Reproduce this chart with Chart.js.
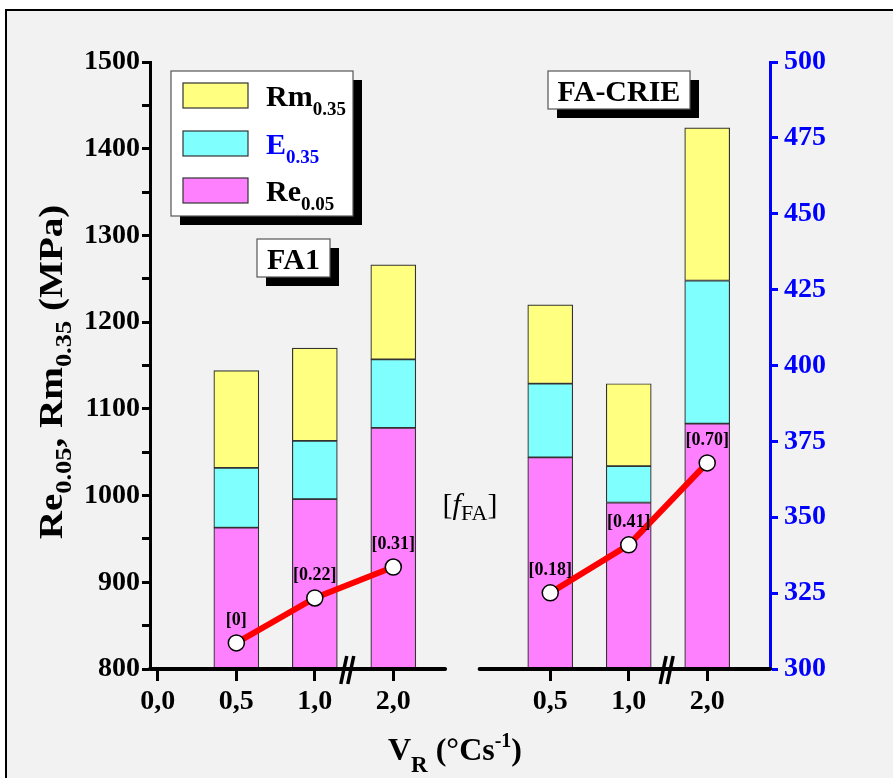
<!DOCTYPE html>
<html>
<head>
<meta charset="utf-8">
<script src="https://cdn.jsdelivr.net/npm/chart.js@4/dist/chart.umd.min.js"></script>
<style>
  body { margin: 0; background: #fff; }
</style>
</head>
<body>
<canvas id="myChart" width="893" height="778"></canvas>
<script>
// x categories, blank slot = axis break between the two alloys
const xLabels = ['0,0', '0,5', '1,0', '2,0', '', '0,5', '1,0', '2,0']
const rates = ['0,5', '1,0', '2,0']

// FA1 (left group), MPa, top of each stacked segment
const fa1Re = [963, 996, 1078]
const fa1E = [1032, 1063, 1157]
const fa1Rm = [1144, 1170, 1266]
// FA-CRIE (right group)
const crieRe = [1044, 992, 1083]
const crieE = [1129, 1034, 1248]
const crieRm = [1220, 1129, 1424]

// red line, right axis
const fa1Line = [308.6, 323.4, 333.6]
const crieLine = [325.1, 340.9, 367.9]
const fa1Frac = ['[0]', '[0.22]', '[0.31]']
const crieFrac = ['[0.18]', '[0.41]', '[0.70]']

const fa1Pos = rates.map(r => xLabels.indexOf(r))
const criePos = rates.map(r => xLabels.lastIndexOf(r))

const YELLOW = '#ffff80'
const CYAN = '#80ffff'
const MAGENTA = '#ff80ff'
const SERIF = '"Liberation Serif", "Times New Roman", serif'

const pts = (pos, vals) => pos.map((x, i) => ({x: x, y: vals[i]}))
const span = (pos, lo, hi) => pos.map((x, i) => ({x: x, y: [lo[i], hi[i]]}))

const barStyle = {
  type: 'bar',
  yAxisID: 'y',
  barThickness: 45,
  grouped: false,
  borderColor: '#333',
  borderWidth: 1.2,
  borderSkipped: false,
  order: 2
}
const lineStyle = {
  type: 'line',
  yAxisID: 'y2',
  borderColor: '#ff0000',
  borderWidth: 6,
  tension: 0,
  pointRadius: 8,
  pointBackgroundColor: '#fff',
  pointBorderColor: '#000',
  pointBorderWidth: 1.5,
  order: 1
}

const data = {
  datasets: [
    {...barStyle, label: 'Re FA1', data: pts(fa1Pos, fa1Re), backgroundColor: MAGENTA},
    {...barStyle, label: 'E FA1', data: span(fa1Pos, fa1Re, fa1E), backgroundColor: CYAN},
    {...barStyle, label: 'Rm FA1', data: span(fa1Pos, fa1E, fa1Rm), backgroundColor: YELLOW},
    {...barStyle, label: 'Re CRIE', data: pts(criePos, crieRe), backgroundColor: MAGENTA},
    {...barStyle, label: 'E CRIE', data: span(criePos, crieRe, crieE), backgroundColor: CYAN},
    {...barStyle, label: 'Rm CRIE', data: span(criePos, crieE, crieRm), backgroundColor: YELLOW},
    {...lineStyle, label: 'fFA FA1', data: pts(fa1Pos, fa1Line), fracs: fa1Frac},
    {...lineStyle, label: 'fFA CRIE', data: pts(criePos, crieLine), fracs: crieFrac}
  ]
}

// text with sub/superscripts: parts = [{t, size, dy, bold, italic, color}]
const rich = (ctx, parts, x, y, align) => {
  const fontOf = p => (p.italic ? 'italic ' : '') + (p.bold === false ? '' : 'bold ') + p.size + 'px ' + SERIF
  let w = 0
  parts.forEach(p => { ctx.font = fontOf(p); w += ctx.measureText(p.t).width })
  let cx = align === 'center' ? x - w / 2 : x
  ctx.textAlign = 'left'
  ctx.textBaseline = 'alphabetic'
  parts.forEach(p => {
    ctx.font = fontOf(p)
    ctx.fillStyle = p.color || '#000'
    ctx.fillText(p.t, cx, y + (p.dy || 0))
    cx += ctx.measureText(p.t).width
  })
}

const shadowBox = (ctx, x, y, w, h) => {
  ctx.fillStyle = '#000'
  ctx.fillRect(x + 9, y + 9, w, h)
  ctx.fillStyle = '#fff'
  ctx.fillRect(x, y, w, h)
  ctx.strokeStyle = '#555'
  ctx.lineWidth = 1.2
  ctx.strokeRect(x, y, w, h)
}

const decor = {
  id: 'decor',
  beforeDraw(chart) {
    const ctx = chart.ctx
    ctx.save()
    ctx.fillStyle = '#fff'
    ctx.fillRect(0, 0, chart.width, chart.height)
    ctx.fillStyle = '#f2f2f2'
    ctx.fillRect(6, 10, chart.width, chart.height)
    ctx.strokeStyle = '#000'
    ctx.lineWidth = 2
    ctx.beginPath()
    ctx.moveTo(6, chart.height)
    ctx.lineTo(6, 10)
    ctx.lineTo(chart.width, 10)
    ctx.stroke()
    ctx.restore()
  },
  afterDraw(chart) {
    const ctx = chart.ctx
    const xs = chart.scales.x
    const area = chart.chartArea
    const by = area.bottom
    ctx.save()

    // x axis in two pieces
    ctx.strokeStyle = '#000'
    ctx.lineWidth = 4
    ctx.lineCap = 'round'
    ctx.beginPath()
    ctx.moveTo(area.left, by)
    ctx.lineTo(xs.getPixelForValue(3.66), by)
    ctx.moveTo(xs.getPixelForValue(4.1), by)
    ctx.lineTo(area.right, by)
    ctx.stroke()

    // break marks
    ctx.lineWidth = 3.5
    ctx.lineCap = 'butt'
    ;[2.42, 6.49].forEach(v => {
      const bx = xs.getPixelForValue(v)
      ;[-4, 3].forEach(o => {
        ctx.beginPath()
        ctx.moveTo(bx + o - 3, by + 15)
        ctx.lineTo(bx + o + 3, by - 13)
        ctx.stroke()
      })
    })

    // legend
    shadowBox(ctx, 171, 71, 182, 145)
    const rows = [
      {c: YELLOW, y: 83, parts: [{t: 'Rm', size: 30}, {t: '0.35', size: 19, dy: 9}]},
      {c: CYAN, y: 131, parts: [{t: 'E', size: 30, color: '#0000ff'}, {t: '0.35', size: 19, dy: 9, color: '#0000ff'}]},
      {c: MAGENTA, y: 178, parts: [{t: 'Re', size: 30}, {t: '0.05', size: 19, dy: 9}]}
    ]
    rows.forEach(r => {
      ctx.fillStyle = r.c
      ctx.fillRect(183, r.y, 65, 25)
      ctx.strokeStyle = '#333'
      ctx.lineWidth = 1.2
      ctx.strokeRect(183, r.y, 65, 25)
      rich(ctx, r.parts, 266, r.y + 23, 'left')
    })

    // group boxes
    shadowBox(ctx, 257, 239, 73, 38)
    rich(ctx, [{t: 'FA1', size: 30}], 293.5, 269, 'center')
    shadowBox(ctx, 548, 71, 142, 38)
    rich(ctx, [{t: 'FA-CRIE', size: 30}], 619, 101, 'center')

    // [f_FA]
    rich(ctx, [
      {t: '[', size: 30, bold: false},
      {t: 'f', size: 30, bold: false, italic: true},
      {t: 'FA', size: 22, bold: false, dy: 6},
      {t: ']', size: 30, bold: false}
    ], 470, 514, 'center')

    // fraction labels over the points
    chart.data.datasets.forEach((ds, i) => {
      if (!ds.fracs) return
      chart.getDatasetMeta(i).data.forEach((p, j) => {
        rich(ctx, [{t: ds.fracs[j], size: 18}], p.x, p.y - 18, 'center')
      })
    })

    // y title, rotated
    ctx.save()
    ctx.translate(50, 372)
    ctx.rotate(-Math.PI / 2)
    ctx.scale(1.15, 1)
    rich(ctx, [
      {t: 'Re', size: 34},
      {t: '0.05', size: 23, dy: 9},
      {t: ', Rm', size: 34},
      {t: '0.35', size: 23, dy: 9},
      {t: ' (MPa)', size: 34}
    ], 0, 12, 'center')
    ctx.restore()

    // x title
    rich(ctx, [
      {t: 'V', size: 32},
      {t: 'R', size: 23, dy: 12},
      {t: ' (°Cs', size: 32},
      {t: '-1', size: 20, dy: -13},
      {t: ')', size: 32}
    ], 455, 760, 'center')

    ctx.restore()
  }
}

const tickFont = {family: SERIF, size: 28, weight: 'bold'}

const config = {
  type: 'bar',
  data,
  options: {
    responsive: false,
    animation: false,
    layout: {padding: {top: 62, left: 0, right: 0, bottom: 0}},
    plugins: {
      legend: {display: false},
      tooltip: {enabled: false}
    },
    scales: {
      x: {
        type: 'linear',
        offset: false,
        min: -0.1,
        max: 7.8,
        afterBuildTicks: axis => {
          axis.ticks = xLabels.map((l, i) => ({value: i})).filter(t => xLabels[t.value] !== '')
        },
        afterFit: axis => { axis.height = 109 },
        ticks: {
          autoSkip: false,
          maxRotation: 0,
          color: '#000',
          font: tickFont,
          padding: 4,
          callback: v => xLabels[v]
        },
        grid: {offset: false, drawOnChartArea: false, color: '#000', tickLength: 12, tickWidth: 3},
        border: {display: false}
      },
      y: {
        position: 'left',
        min: 800,
        max: 1500,
        afterFit: axis => { axis.width = 150 },
        ticks: {
          stepSize: 50,
          autoSkip: false,
          color: '#000',
          font: tickFont,
          padding: 2,
          callback: v => (v % 100 === 0 ? v : '')
        },
        grid: {drawOnChartArea: false, color: '#000', tickLength: 8, tickWidth: 3},
        border: {display: true, color: '#000', width: 3}
      },
      y2: {
        position: 'right',
        min: 300,
        max: 500,
        afterFit: axis => { axis.width = 123 },
        ticks: {
          stepSize: 25,
          autoSkip: false,
          color: '#0000ff',
          font: tickFont,
          padding: 6
        },
        grid: {drawOnChartArea: false, color: '#0000ff', tickLength: 8, tickWidth: 3},
        border: {display: true, color: '#0000ff', width: 3}
      }
    }
  },
  plugins: [decor]
}

const myChart = new Chart(document.getElementById('myChart'), config)
</script>
</body>
</html>
